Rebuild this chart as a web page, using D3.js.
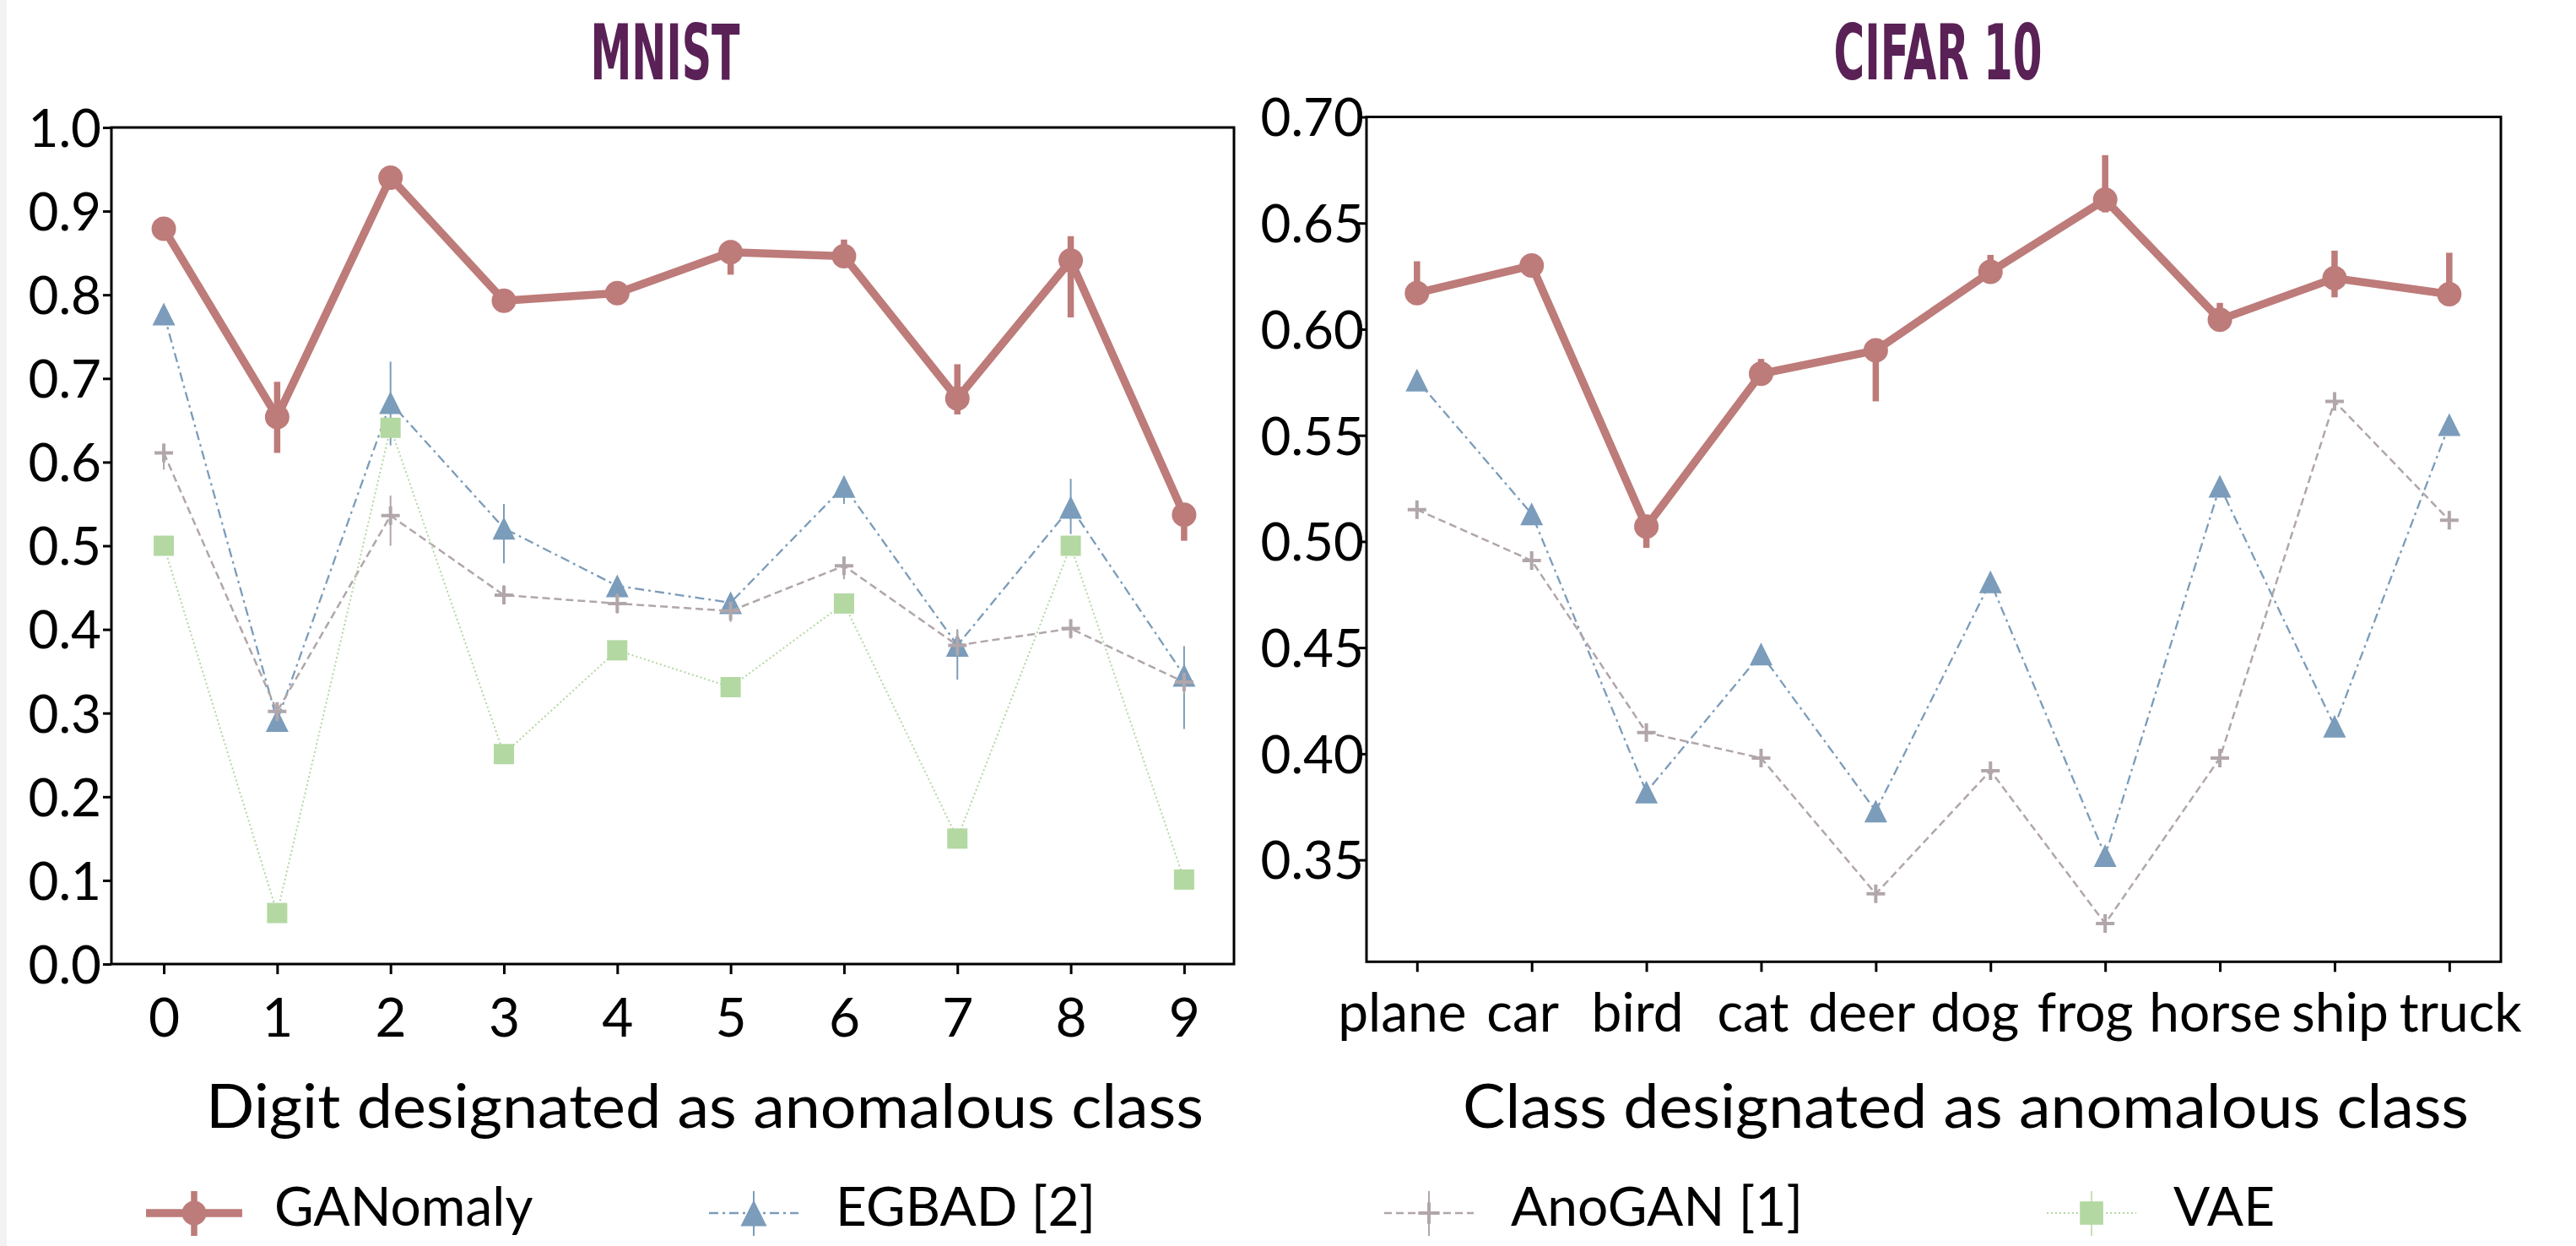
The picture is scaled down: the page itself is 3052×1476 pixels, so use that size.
<!DOCTYPE html>
<html>
<head>
<meta charset="utf-8">
<script src="https://cdn.jsdelivr.net/npm/d3@7"></script>
<style>
  body { margin: 0; background: #fff; }
  text { font-family: Lato, "Open Sans", sans-serif; fill: #000; }
</style>
</head>
<body>
<svg id="chart" width="3052" height="1476"></svg>
<script>
// ---- data ----
const mnistClasses = ["0", "1", "2", "3", "4", "5", "6", "7", "8", "9"];
const cifarClasses = ["plane", "car", "bird", "cat", "deer", "dog", "frog", "horse", "ship", "truck"];
const mnistYTicks = [0.0, 0.1, 0.2, 0.3, 0.4, 0.5, 0.6, 0.7, 0.8, 0.9, 1.0];
const cifarYTicks = [0.35, 0.40, 0.45, 0.50, 0.55, 0.60, 0.65, 0.70];

// MNIST
const mnistGanomaly   = [0.879, 0.654, 0.940, 0.793, 0.802, 0.851, 0.846, 0.676, 0.841, 0.537];
const mnistGanomalyLo = [0.875, 0.611, 0.936, 0.789, 0.798, 0.824, 0.840, 0.657, 0.773, 0.506];
const mnistGanomalyHi = [0.883, 0.696, 0.944, 0.797, 0.806, 0.865, 0.866, 0.717, 0.870, 0.545];

const mnistEgbad   = [0.777, 0.291, 0.671, 0.521, 0.452, 0.432, 0.571, 0.381, 0.546, 0.345];
const mnistEgbadLo = [0.772, 0.285, 0.620, 0.479, 0.445, 0.425, 0.550, 0.340, 0.514, 0.281];
const mnistEgbadHi = [0.782, 0.300, 0.720, 0.550, 0.458, 0.440, 0.580, 0.400, 0.580, 0.380];

const mnistAnogan   = [0.611, 0.302, 0.536, 0.441, 0.431, 0.422, 0.476, 0.381, 0.401, 0.337];
const mnistAnoganLo = [0.591, 0.290, 0.500, 0.430, 0.419, 0.409, 0.460, 0.368, 0.389, 0.323];
const mnistAnoganHi = [0.622, 0.312, 0.560, 0.453, 0.443, 0.429, 0.487, 0.400, 0.412, 0.345];

const mnistVae = [0.500, 0.061, 0.641, 0.251, 0.375, 0.331, 0.431, 0.150, 0.500, 0.101];

// CIFAR 10
const cifarGanomaly   = [0.617, 0.630, 0.507, 0.579, 0.590, 0.627, 0.661, 0.6045, 0.624, 0.6165];
const cifarGanomalyLo = [0.612, 0.627, 0.497, 0.575, 0.566, 0.622, 0.655, 0.600, 0.615, 0.612];
const cifarGanomalyHi = [0.632, 0.633, 0.511, 0.586, 0.594, 0.635, 0.682, 0.6124, 0.637, 0.636];

const cifarEgbad  = [0.576, 0.513, 0.382, 0.447, 0.373, 0.481, 0.352, 0.526, 0.413, 0.555];
const cifarAnogan = [0.515, 0.491, 0.410, 0.398, 0.334, 0.392, 0.320, 0.398, 0.566, 0.510];

const seriesNames = ["GANomaly", "EGBAD [2]", "AnoGAN [1]", "VAE"];

// ---- styles ----
const styles = {
  GANomaly:     { color: "#bd7b79", width: 9.5, dash: null,       marker: "circle",   size: 29, errWidth: 7.5 },
  "EGBAD [2]":  { color: "#7b9cba", width: 2.3, dash: "11,5,3,5", marker: "triangle", size: 27, errWidth: 2 },
  "AnoGAN [1]": { color: "#b1a6aa", width: 2.5, dash: "9,5",      marker: "plus",     size: 22, errWidth: 2 },
  VAE:          { color: "#b3d8a2", width: 2,   dash: "2,3",      marker: "square",   size: 24, errWidth: 1.5 }
};

// the CIFAR tick labels sit a little off their ticks in the original
const cifarLabelShift = [-18, -11, -11, -10, -17, -19, -24, -6, 6, 13];

const svg = d3.select("#chart");
svg.append("rect").attr("width", 3052).attr("height", 1476).attr("fill", "#fff");
svg.append("rect").attr("width", 8).attr("height", 1476).attr("fill", "#f2f2f2");

function drawMarker(g, kind, s, color) {
  const h = s / 2;
  if (kind === "circle") {
    g.append("circle").attr("r", h).attr("fill", color);
  } else if (kind === "triangle") {
    g.append("path").attr("d", `M0,${-h}L${h},${h}L${-h},${h}Z`).attr("fill", color);
  } else if (kind === "plus") {
    g.append("path").attr("d", `M${-h},0H${h}M0,${-h}V${h}`)
      .attr("stroke", color).attr("stroke-width", 4).attr("fill", "none");
  } else {
    g.append("rect").attr("x", -h).attr("y", -h).attr("width", s).attr("height", s).attr("fill", color);
  }
}

function panel(cfg) {
  const x = d3.scaleLinear().domain(cfg.xDomain).range([cfg.left, cfg.right]);
  const y = d3.scaleLinear().domain(cfg.yDomain).range([cfg.bottom, cfg.top]);
  const g = svg.append("g");

  // series (plot order: GANomaly, EGBAD, AnoGAN, VAE)
  cfg.series.forEach(s => {
    const st = styles[s.name];
    const sg = g.append("g");
    const line = d3.line().x((d, i) => x(i)).y(d => y(d));
    sg.append("path").datum(s.values).attr("d", line)
      .attr("fill", "none").attr("stroke", st.color).attr("stroke-width", st.width)
      .attr("stroke-dasharray", st.dash).attr("stroke-linejoin", "round");
    if (s.lo) {
      sg.selectAll("line.err").data(s.values).join("line")
        .attr("x1", (d, i) => x(i)).attr("x2", (d, i) => x(i))
        .attr("y1", (d, i) => y(s.lo[i])).attr("y2", (d, i) => y(s.hi[i]))
        .attr("stroke", st.color).attr("stroke-width", st.errWidth);
    }
    s.values.forEach((v, i) => {
      const mg = sg.append("g").attr("transform", `translate(${x(i)},${y(v)})`);
      drawMarker(mg, st.marker, st.size, st.color);
    });
  });

  // frame
  g.append("rect").attr("x", cfg.left).attr("y", cfg.top)
    .attr("width", cfg.right - cfg.left).attr("height", cfg.bottom - cfg.top)
    .attr("fill", "none").attr("stroke", "#000").attr("stroke-width", 3);

  // y axis
  const ya = g.append("g").attr("transform", `translate(${cfg.left},0)`)
    .call(d3.axisLeft(y).tickValues(cfg.yTicks).tickFormat(d3.format(cfg.yFormat))
      .tickSize(10).tickPadding(cfg.yPad));
  ya.select(".domain").remove();
  ya.selectAll("line").attr("stroke-width", 3);
  ya.selectAll("text").attr("font-size", 62).attr("dy", "0.36em")
    .style("font-family", "Lato, sans-serif");

  // x axis
  const xa = g.append("g").attr("transform", `translate(0,${cfg.bottom})`)
    .call(d3.axisBottom(x).tickValues(d3.range(cfg.classes.length))
      .tickFormat(i => cfg.classes[i]).tickSize(12));
  xa.select(".domain").remove();
  xa.selectAll("line").attr("stroke-width", 3);
  xa.selectAll("text").attr("font-size", 64).attr("dy", null)
    .attr("y", cfg.xLabelBase).attr("dx", (d, i) => cfg.xLabelDx ? cfg.xLabelDx[i] : 0)
    .style("font-family", "Lato, sans-serif");

  // axis label
  g.append("text").attr("x", cfg.xTitleX).attr("y", 1336).attr("text-anchor", "middle")
    .attr("font-size", 72).attr("textLength", cfg.xTitleW).attr("lengthAdjust", "spacingAndGlyphs")
    .text(cfg.xTitle);

  // panel title
  g.append("text").attr("x", cfg.titleX).attr("y", 94).attr("text-anchor", "middle")
    .attr("font-size", 90).attr("font-weight", "bold")
    .style("font-family", "'DejaVu Sans Condensed', 'Liberation Sans Narrow', sans-serif")
    .style("fill", "#592156")
    .attr("textLength", cfg.titleW).attr("lengthAdjust", "spacingAndGlyphs")
    .text(cfg.title);
}

panel({
  title: "MNIST", titleX: 788, titleW: 177,
  left: 132, right: 1462, top: 151, bottom: 1142,
  xDomain: [-0.462, 9.44], yDomain: [0, 1],
  yTicks: mnistYTicks, yFormat: ".1f", yPad: 2,
  classes: mnistClasses, xLabelBase: 86, xLabelDx: null,
  xTitle: "Digit designated as anomalous class", xTitleX: 835, xTitleW: 1182,
  series: [
    { name: "GANomaly", values: mnistGanomaly, lo: mnistGanomalyLo, hi: mnistGanomalyHi },
    { name: "EGBAD [2]", values: mnistEgbad, lo: mnistEgbadLo, hi: mnistEgbadHi },
    { name: "AnoGAN [1]", values: mnistAnogan, lo: mnistAnoganLo, hi: mnistAnoganHi },
    { name: "VAE", values: mnistVae }
  ]
});

panel({
  title: "CIFAR 10", titleX: 2296, titleW: 247,
  left: 1619, right: 2963, top: 138.5, bottom: 1139.3,
  xDomain: [-0.44, 9.45], yDomain: [0.302, 0.70],
  yTicks: cifarYTicks, yFormat: ".2f", yPad: -7,
  classes: cifarClasses, xLabelBase: 83, xLabelDx: cifarLabelShift,
  xTitle: "Class designated as anomalous class", xTitleX: 2329, xTitleW: 1192,
  series: [
    { name: "GANomaly", values: cifarGanomaly, lo: cifarGanomalyLo, hi: cifarGanomalyHi },
    { name: "EGBAD [2]", values: cifarEgbad },
    { name: "AnoGAN [1]", values: cifarAnogan }
  ]
});

// ---- legend ----
const legendX = [173, 840, 1640, 2425];
const legend = svg.append("g").attr("transform", "translate(0,1437)");
seriesNames.forEach((name, k) => {
  const st = styles[name];
  const lg = legend.append("g").attr("transform", `translate(${legendX[k]},0)`);
  const len = k === 0 ? 114 : 106;
  lg.append("line").attr("x1", 0).attr("x2", len)
    .attr("stroke", st.color).attr("stroke-width", st.width).attr("stroke-dasharray", st.dash);
  lg.append("line").attr("x1", len / 2).attr("x2", len / 2).attr("y1", -26).attr("y2", 27)
    .attr("stroke", st.color).attr("stroke-width", st.errWidth);
  const mg = lg.append("g").attr("transform", `translate(${len / 2},0)`);
  drawMarker(mg, st.marker, st.size * (k === 0 ? 1 : 1.15), st.color);
  lg.append("text").attr("x", len + (k === 0 ? 38 : 44)).attr("y", 15)
    .attr("font-size", 64).text(name);
});
</script>
</body>
</html>
